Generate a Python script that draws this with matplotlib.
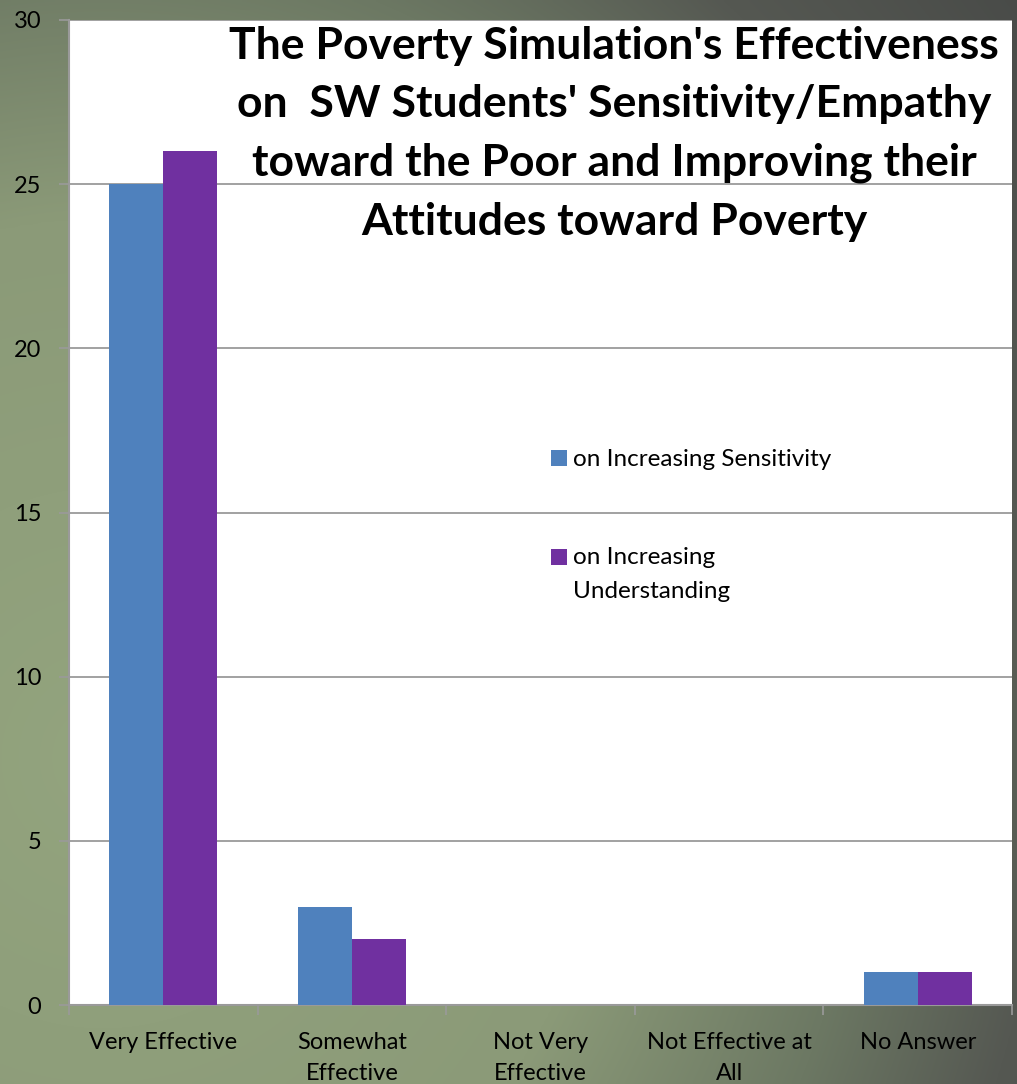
import numpy as np
import matplotlib
matplotlib.use("Agg")
import matplotlib.pyplot as plt
from matplotlib.colors import to_rgb

# data
categories = ["Very Effective", "Somewhat\nEffective", "Not Very\nEffective",
              "Not Effective at\nAll", "No Answer"]
sensitivity = [25, 3, 0, 0, 1]
understanding = [26, 2, 0, 0, 1]
series_names = ["on Increasing Sensitivity", "on Increasing\nUnderstanding"]
title = ("The Poverty Simulation's Effectiveness\n"
         "on  SW Students' Sensitivity/Empathy\n"
         "toward the Poor and Improving their\n"
         "Attitudes toward Poverty")

plt.rcParams['font.family'] = ['Lato', 'DejaVu Sans']

W, H = 1017, 1084
fig = plt.figure(figsize=(W / 100, H / 100), dpi=100)

# background: green glow at the lower left fading to dark grey at the upper right
bg = fig.add_axes([0, 0, 1, 1], zorder=-10)
u = np.linspace(0, 1, 300)[None, :]
v = np.linspace(1, 0, 320)[:, None]
d = np.sqrt((u - 0.1) ** 2 + (v - 0.3) ** 2)
stops = [0.0, 0.5, 0.75, 0.93, 1.2]
cols = np.array([to_rgb(c) for c in ["#93a47e", "#8b9a78", "#6c7863", "#555852", "#464846"]])
img = np.dstack([np.interp(d, stops, cols[:, k]) for k in range(3)])
bg.imshow(img, aspect='auto', extent=[0, 1, 0, 1], interpolation='bilinear')
bg.axis('off')

ax = fig.add_axes([69 / W, 1 - 1005 / H, (1012 - 69) / W, (1005 - 20) / H])
ax.set_facecolor('white')

x = np.arange(len(categories))
bw = 0.286
ax.bar(x - bw / 2, sensitivity, bw, color='#4f81bd', label=series_names[0], zorder=3)
ax.bar(x + bw / 2, understanding, bw, color='#7030a0', label=series_names[1], zorder=3)

ax.set_xlim(-0.5, len(categories) - 0.5)
ax.set_ylim(0, 30)
ax.set_yticks(range(0, 31, 5))
ax.yaxis.grid(True, color='#878787', linewidth=1.1, zorder=0)
ax.set_axisbelow(True)

ax.set_xticks(x)
ax.set_xticklabels(categories, fontsize=17, linespacing=1.6)
ax.set_xticks(np.arange(-0.5, len(categories)), minor=True)
ax.tick_params(axis='x', which='major', length=0, pad=19.5)
ax.tick_params(axis='x', which='minor', length=7, color='#9a9a9a', width=1.2)
ax.tick_params(axis='y', length=7, color='#9a9a9a', width=1.2, labelsize=17, pad=13)

for s in ['top', 'right']:
    ax.spines[s].set_visible(False)
for s in ['left', 'bottom']:
    ax.spines[s].set_color('#9a9a9a')
    ax.spines[s].set_linewidth(1.5)

leg = ax.legend(loc='upper left', bbox_to_anchor=((539 - 69) / (1012 - 69), (1005 - 437) / 985),
                frameon=False, fontsize=17.5, handlelength=0.65, handleheight=0.65,
                handletextpad=0.25, labelspacing=3.15, borderpad=0)
leg.get_texts()[1].set_linespacing(1.8)
# Excel puts the marker next to the first line of a wrapped label
leg.legend_handles[1].set_y(leg.legend_handles[1].get_y() + 12.6)

fig.text(614 / W, 1 - 26 / H, title, ha='center', va='top', fontsize=32,
         fontweight='bold', linespacing=1.56, multialignment='center')

fig.savefig('out.png', dpi=100)
